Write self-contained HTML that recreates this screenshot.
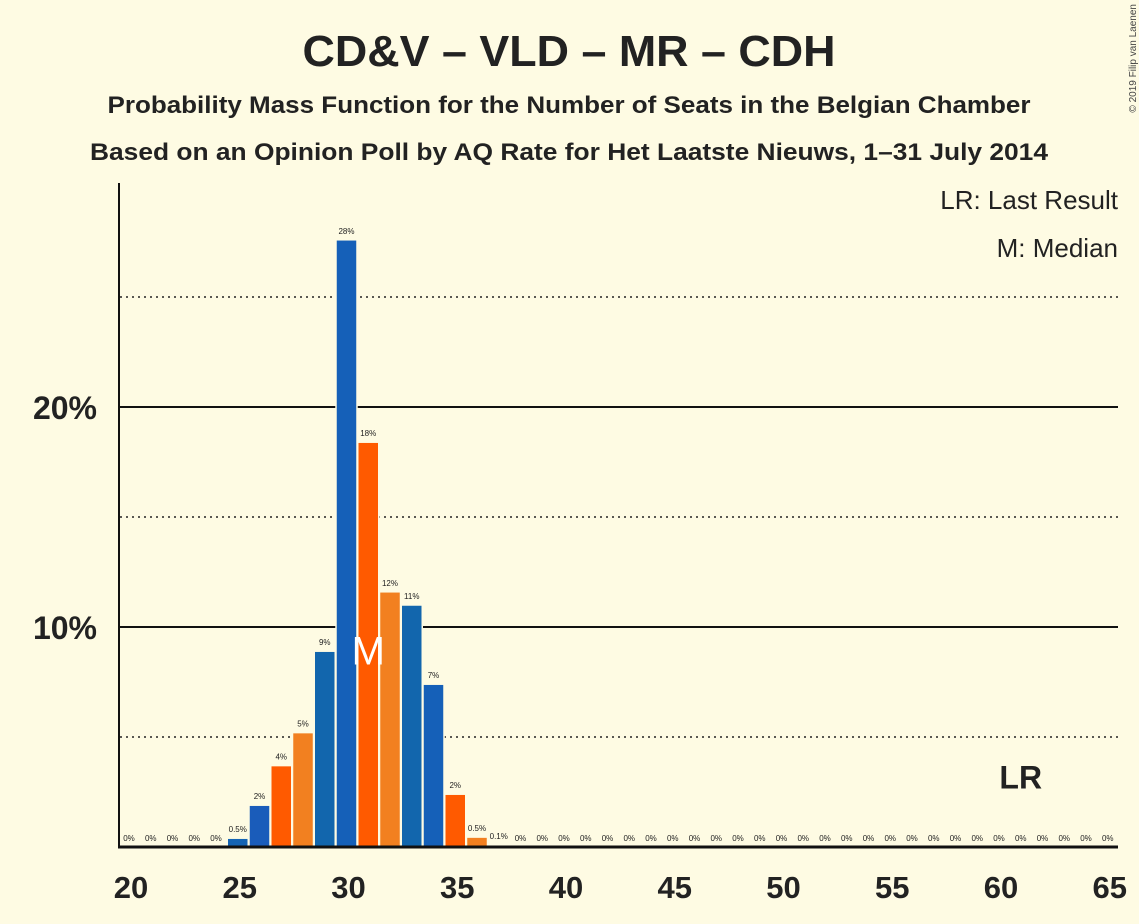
<!DOCTYPE html>
<html><head><meta charset="utf-8"><style>
body{margin:0;background:#fefbe3;}
svg{display:block;font-family:"Liberation Sans",sans-serif;}
</style></head><body>
<svg id="c" width="1139" height="924" xmlns="http://www.w3.org/2000/svg">
<rect width="1139" height="924" fill="#fefbe3"/>
<text x="569" y="66" text-anchor="middle" font-size="44" font-weight="bold" fill="#222" textLength="533" lengthAdjust="spacingAndGlyphs">CD&amp;V – VLD – MR – CDH</text>
<text x="569" y="113" text-anchor="middle" font-size="24" font-weight="bold" fill="#222" textLength="923" lengthAdjust="spacingAndGlyphs">Probability Mass Function for the Number of Seats in the Belgian Chamber</text>
<text x="569" y="160" text-anchor="middle" font-size="24" font-weight="bold" fill="#222" textLength="958" lengthAdjust="spacingAndGlyphs">Based on an Opinion Poll by AQ Rate for Het Laatste Nieuws, 1–31 July 2014</text>
<text x="1118" y="209" text-anchor="end" font-size="26" fill="#222">LR: Last Result</text>
<text x="1118" y="257" text-anchor="end" font-size="26" fill="#222">M: Median</text>
<text x="1136" y="4" font-size="10" fill="#444" transform="rotate(-90 1136 4)" text-anchor="end">© 2019 Filip van Laenen</text>
<g id="grid"></g><g id="bars"></g><g id="xt"></g>
<line x1="119" y1="183" x2="119" y2="848" stroke="#111" stroke-width="2"/>
<line x1="118" y1="847" x2="1118" y2="847" stroke="#111" stroke-width="3"/>
</svg>
<script>
const seats=[];for(let s=20;s<=65;s++)seats.push(s);
const probs={25:0.4,26:1.9,27:3.7,28:5.2,29:8.9,30:27.6,31:18.4,32:11.6,33:11.0,34:7.4,35:2.4,36:0.45,37:0.1};
const labels={25:"0.5%",26:"2%",27:"4%",28:"5%",29:"9%",30:"28%",31:"18%",32:"12%",33:"11%",34:"7%",35:"2%",36:"0.5%",37:"0.1%"};
const colors={25:"#1464b4",26:"#1a5cba",27:"#ff5a00",28:"#f28020",29:"#1266ad",30:"#1560b8",31:"#ff5a00",32:"#f28020",33:"#1266ad",34:"#1560b8",35:"#ff5a00",36:"#f28020",37:"#1560b8"};
const yTicks=[10,20];const yDotted=[5,15,25];const xTicks=[20,25,30,35,40,45,50,55,60,65];
const median=31, lastResult=61;
const NS="http://www.w3.org/2000/svg";
const X=s=>129+(s-20)*21.75, Y=v=>847-v*22;
function el(t,a,p,txt){const e=document.createElementNS(NS,t);for(const k in a)e.setAttribute(k,a[k]);if(txt!==undefined)e.textContent=txt;document.getElementById(p).appendChild(e);return e;}
for(const v of yDotted){const e=el('line',{x1:120,x2:1118,y1:Y(v),y2:Y(v),stroke:'#222','stroke-width':1.5,'stroke-dasharray':'2,4'},'grid');

}
for(const v of yTicks){const e=el('line',{x1:120,x2:1118,y1:Y(v),y2:Y(v),stroke:'#111','stroke-width':2},'grid');


const t=el('text',{x:97,y:Y(v)+12,'text-anchor':'end','font-size':32,'font-weight':'bold',fill:'#222'},'grid',v+'%');

}
for(const s of seats){
 const p=probs[s]||0;
 if(p>0){const r=el('rect',{x:X(s)-10.5,y:Y(p),width:21,height:847-Y(p),fill:colors[s],stroke:'#fefbe3','stroke-width':1.5},'bars');
 
 }
 const t=el('text',{x:X(s),y:(p>0?Y(p):847)-6,'text-anchor':'middle','font-size':8,fill:'#222'},'bars',labels[s]||'0%');
 
 
}
const m=el('text',{x:X(median),y:Y(8.8)+11,'text-anchor':'middle','font-size':40,fill:'#fff'},'bars','M');


const lr=el('text',{x:X(lastResult),y:Y(3.2)+12,'text-anchor':'middle','font-size':32,'font-weight':'bold',fill:'#222'},'bars','LR');


for(const s of xTicks){const t=el('text',{x:X(s)+2,y:898,'text-anchor':'middle','font-size':31,'font-weight':'bold',fill:'#222'},'xt',s);

}
</script>
</body></html>
